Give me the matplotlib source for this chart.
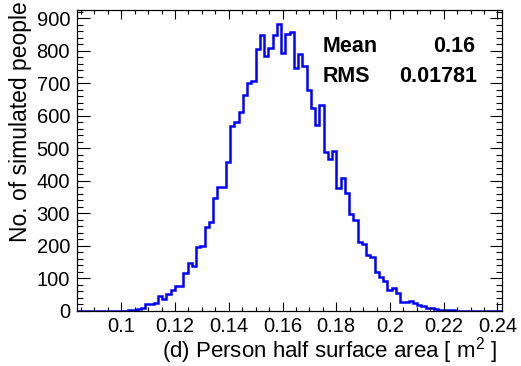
import numpy as np
import matplotlib
matplotlib.use("Agg")
import matplotlib.pyplot as plt
from matplotlib.ticker import MultipleLocator, FuncFormatter

plt.rcParams['font.family'] = ['Liberation Sans', 'DejaVu Sans']
plt.rcParams['mathtext.default'] = 'regular'

# histogram range and bin contents (100 bins)
x_min = 0.0835
x_max = 0.2417
counts = [
    0, 0, 0, 0, 0, 0, 0, 0, 1, 0,
    1, 1, 2, 3, 7, 8, 21, 23, 24, 45,
    37, 52, 64, 77, 78, 118, 147, 139, 197, 201,
    257, 275, 347, 380, 382, 459, 568, 581, 612, 664,
    702, 707, 807, 850, 786, 809, 850, 882, 794, 853,
    857, 748, 790, 754, 681, 626, 571, 633, 489, 467,
    493, 377, 408, 362, 297, 280, 211, 205, 172, 167,
    121, 105, 92, 64, 70, 54, 28, 28, 30, 24,
    17, 15, 8, 8, 5, 4, 3, 2, 2, 1,
    1, 1, 0, 1, 0, 0, 0, 0, 0, 0,
]
mean_text = "0.16"
rms_text = "0.01781"
x_title = "(d) Person half surface area [ m$^{2}$ ]"
y_title = "No. of simulated people"

edges = np.linspace(x_min, x_max, len(counts) + 1)

fig = plt.figure(figsize=(5.21, 3.66), dpi=100)
ax = fig.add_axes([77 / 521, 1 - 311 / 366, 425 / 521, 301 / 366])

ax.stairs(counts, edges, color='#0000ff', linewidth=1.8)

ax.set_xlim(x_min, x_max)
ax.set_ylim(0, max(counts) * 1.05)

ax.xaxis.set_major_locator(MultipleLocator(0.02))
ax.xaxis.set_minor_locator(MultipleLocator(0.005))
ax.yaxis.set_major_locator(MultipleLocator(100))
ax.yaxis.set_minor_locator(MultipleLocator(20))
ax.xaxis.set_major_formatter(FuncFormatter(lambda v, p: f"{round(v, 3):g}"))

ax.tick_params(which='both', direction='in', top=True, right=True, width=0.8)
ax.tick_params(axis='x', which='major', length=6.5, labelsize=14.5, pad=4)
ax.tick_params(axis='x', which='minor', length=3.2)
ax.tick_params(axis='y', which='major', length=9, labelsize=14.5, pad=5)
ax.tick_params(axis='y', which='minor', length=4.3)
for s in ax.spines.values():
    s.set_linewidth(0.9)

# stats box (no border, ROOT style)
fig.text(323 / 521, 1 - 47 / 366, "Mean", fontsize=15.5, fontweight='bold', ha='left', va='center')
fig.text(475 / 521, 1 - 47 / 366, mean_text, fontsize=15.5, fontweight='bold', ha='right', va='center')
fig.text(323 / 521, 1 - 76 / 366, "RMS", fontsize=15.5, fontweight='bold', ha='left', va='center')
fig.text(477 / 521, 1 - 76 / 366, rms_text, fontsize=15.5, fontweight='bold', ha='right', va='center')

# axis titles aligned to axis ends
fig.text(497 / 521, 1 - 351 / 366, x_title, fontsize=16, ha='right', va='center')
fig.text(21 / 521, 1 - 1 / 366, y_title, fontsize=16.5, ha='center', va='top', rotation=90)

fig.savefig("out.png", dpi=100)
